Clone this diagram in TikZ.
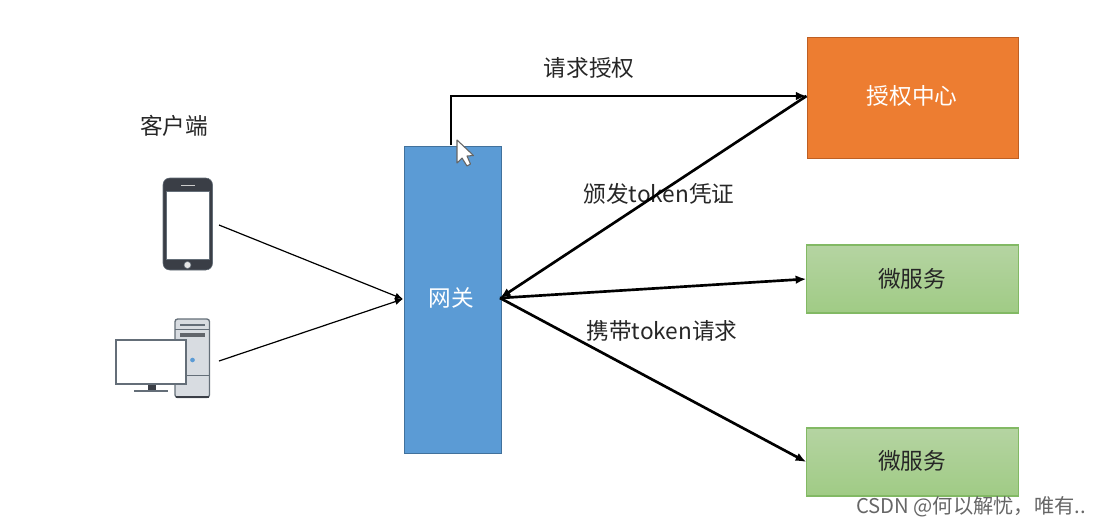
\documentclass[tikz,border=0pt]{standalone}
\usepackage{fontspec}
\setmainfont{Noto Sans CJK SC}
\usetikzlibrary{arrows.meta}
\definecolor{gatewayblue}{RGB}{91,155,213}
\definecolor{gatewayline}{RGB}{65,113,156}
\definecolor{authorange}{RGB}{237,125,49}
\definecolor{authline}{RGB}{190,95,35}
\definecolor{greentop}{RGB}{181,212,162}
\definecolor{greenbot}{RGB}{160,203,133}
\definecolor{greenline}{RGB}{130,185,100}
\definecolor{icondark}{RGB}{58,62,70}
\definecolor{icongrey}{RGB}{100,110,120}
\definecolor{towergrey}{RGB}{216,220,225}
\definecolor{labeltext}{RGB}{38,38,38}
\begin{document}
\begin{tikzpicture}[x=0.75pt,y=-0.75pt]
\tikzstyle{every node}=[inner sep=0pt,font=\fontsize{17}{20}\selectfont]
\tikzstyle{gatewaybox}=[draw=gatewayline,fill=gatewayblue,minimum width=73pt,minimum height=230.5pt]
\tikzstyle{authbox}=[draw=authline,fill=authorange,minimum width=158.5pt,minimum height=91pt]
\tikzstyle{servicebox}=[draw=greenline,line width=0.8pt,top color=greentop,bottom color=greenbot,text=labeltext,minimum width=158.5pt,minimum height=51pt]
\tikzstyle{caption}=[text=labeltext]
\tikzstyle{thinline}=[color=black,line width=0.9pt,-{Latex[length=6pt,width=5pt]}]
\tikzstyle{thickline}=[color=black,line width=2pt,-{Latex[length=8pt,width=6.5pt]}]
\useasboundingbox (0,0) rectangle (1096,526);
%nodes
\node[gatewaybox] (gateway) at (452.5,299.5) {};
\node[authbox] (auth) at (912.5,97.5) {};
\node[servicebox] (service1) at (912.5,279) {};
\node[servicebox] (service2) at (912.5,462) {};
\node[text=white] (gatewaytext) at (451.5,298) {网关};
\node[text=white] (authtext) at (912,96) {授权中心};
\node[text=labeltext] (service1text) at (912,279) {微服务};
\node[text=labeltext] (service2text) at (912,461) {微服务};
\node[caption] (client) at (174,126) {客户端};
\node[caption] (request) at (589,68) {请求授权};
\node[caption] (issue) at (659,194) {颁发token凭证};
\node[caption] (carry) at (662,331) {携带token请求};
\node[text=black!60,font=\fontsize{15.2}{17}\selectfont] (mark) at (971,507) {CSDN @何以解忧，唯有..};
%free ends
\coordinate (phoneend) at (219,225);
\coordinate (pcend) at (219,361);
\coordinate (gatewayin) at (403,299);
\coordinate (gatewayout) at (500,298);
\coordinate (gatewaytop) at (451,145);
\coordinate (corner) at (451,96);
\coordinate (authin) at (806.5,96);
%phone
\draw[color=icongrey,fill=icondark,rounded corners=5pt] (163,178) rectangle (212.5,270);
\draw[color=icongrey,fill=white] (166,191) rectangle (209.5,259);
\draw[color=white!80!black,line width=1pt] (181,185.5) -- (195,185.5);
\draw[color=icongrey,fill=white!90!black] (187.5,265) circle (3.5);
%computer
\draw[color=icongrey,fill=towergrey,line width=1pt,rounded corners=2pt] (175,319) rectangle (209.5,397.5);
\draw[color=icondark,line width=1.5pt] (176,397) -- (209,397);
\draw[color=icongrey,line width=0.6pt] (175,329) -- (209.5,329);
\draw[color=icongrey,line width=0.6pt] (175,375) -- (209.5,375);
\draw[color=icongrey,line width=1.5pt] (180,325) -- (205,325);
\draw[color=icondark!80!white,line width=3pt] (180,334.5) -- (205,334.5);
\draw[color=gatewayblue,fill=gatewayblue] (192.5,360) circle (2);
\draw[color=icondark,fill=icondark] (148,384) rectangle (155,390);
\draw[color=icongrey,line width=1.5pt] (134,390.5) -- (168,390.5);
\draw[color=icongrey,fill=white,line width=1pt] (116,340) rectangle (186,384);
%connectors
\draw[thinline] (phoneend) -- (gatewayin);
\draw[thinline] (pcend) -- (gatewayin);
\draw[thickline] (gatewaytop) -- (corner) -- (authin);
\draw[thickline] (authin) -- (gatewayout);
\draw[thickline] (gatewayout) -- (service1.west);
\draw[thickline] (gatewayout) -- (service2.west);
%cursor
\draw[color=black!60,fill=white,line width=0.8pt,line join=round] (457,140) -- (457,163) -- (462,158) -- (467,166) -- (470.5,164) -- (467,156) -- (473.5,155.5) -- cycle;
\end{tikzpicture}
\end{document}
